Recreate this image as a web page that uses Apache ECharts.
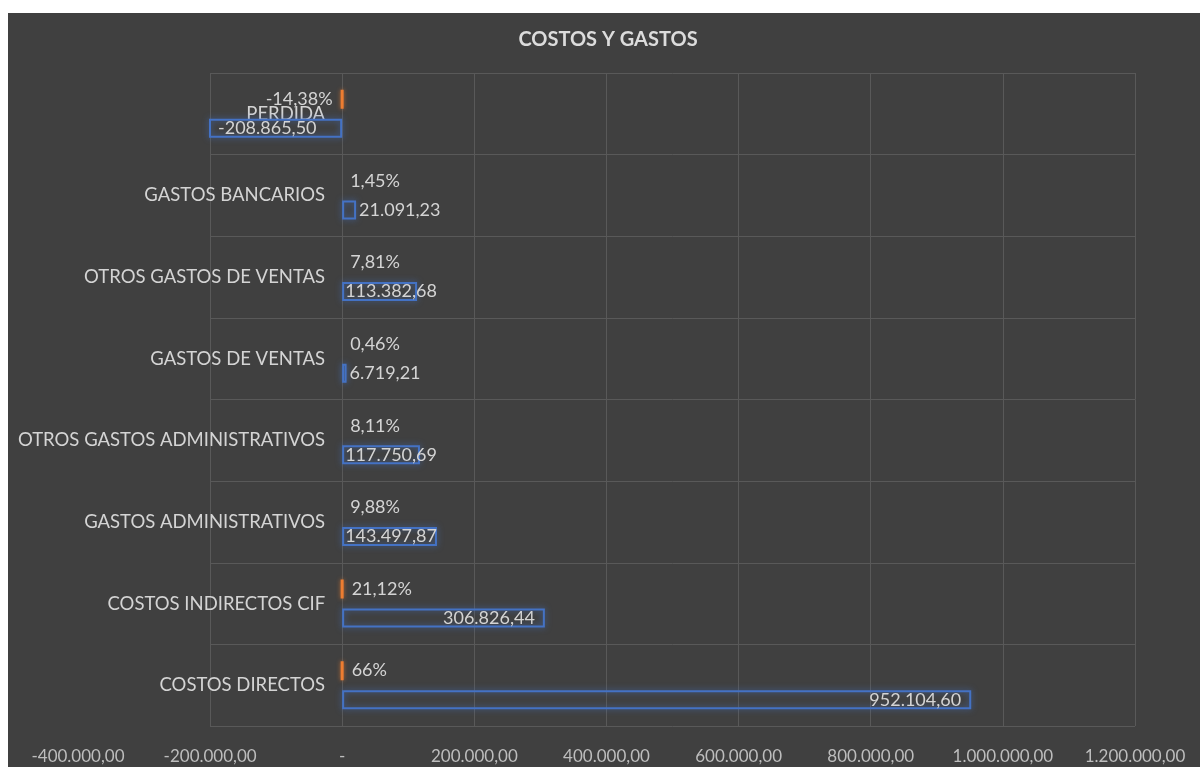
<!DOCTYPE html>
<html>
<head>
<meta charset="utf-8">
<script src="https://cdn.jsdelivr.net/npm/echarts@6/dist/echarts.min.js"></script>
<style>
  html, body { margin: 0; padding: 0; background: #ffffff; }
  #chart { position: absolute; left: 8px; top: 13px; width: 1192px; height: 754px; background: #404040; }
</style>
</head>
<body>
<div id="chart"></div>
<script>
// Cost and expense lines, bottom to top
const categories = [
  'COSTOS DIRECTOS',
  'COSTOS INDIRECTOS CIF',
  'GASTOS ADMINISTRATIVOS',
  'OTROS GASTOS ADMINISTRATIVOS',
  'GASTOS DE VENTAS',
  'OTROS GASTOS DE VENTAS',
  'GASTOS BANCARIOS',
  'PERDIDA'
];
// Amounts
const amounts = [952104.60, 306826.44, 143497.87, 117750.69, 6719.21, 113382.68, 21091.23, -208865.50];
// Share of total (fraction)
const shares = [0.66, 0.2112, 0.0988, 0.0811, 0.0046, 0.0781, 0.0145, -0.1438];
// Value axis ticks
const axisMin = -400000;
const axisMax = 1200000;
const axisStep = 200000;

const FONT = 'Lato';

// 1234567.8 -> "1.234.567,80"; zero -> "-"
function fmtAmount(v) {
  if (Math.abs(v) < 1e-9) return '-';
  const neg = v < 0;
  const parts = Math.abs(v).toFixed(2).split('.');
  const intPart = parts[0].replace(/\B(?=(\d{3})+(?!\d))/g, '.');
  return (neg ? '-' : '') + intPart + ',' + parts[1];
}
function fmtShare(v) {
  let s = (v * 100).toFixed(2).replace('.', ',');
  s = s.replace(/,00$/, '');
  return s + '%';
}

// rows where the share bar carries an outline
const outlinedShares = new Set(['PERDIDA', 'COSTOS INDIRECTOS CIF', 'COSTOS DIRECTOS']);

const orange = '#ED7D31';
const blue = '#4472C4';

const shareData = shares.map((v, i) => {
  const on = outlinedShares.has(categories[i]);
  return {
    value: v,
    itemStyle: on ? {} : { borderWidth: 0, shadowBlur: 0, color: 'rgba(0,0,0,0)' },
    label: { position: v < 0 ? 'left' : 'right' }
  };
});

function amountLabelPos(v) {
  if (v < 0) return 'insideLeft';
  if (v >= 250000) return 'insideRight';
  if (v >= 100000) return 'insideLeft';
  return 'right';
}
const amountData = amounts.map(v => ({
  value: v,
  label: {
    position: amountLabelPos(v),
    distance: v < 0 ? 9 : (v >= 250000 ? 10 : 3)
  }
}));

const chart = echarts.init(document.getElementById('chart'), null, { renderer: 'canvas' });

const gridLineColor = '#595959';
const gridLeft = 202;
const plotWidth = 1192 - gridLeft - 65;
// distance from the plot's left edge to the zero line
const zeroOffset = plotWidth * (0 - (-200000)) / (axisMax - (-200000));

chart.setOption({
  backgroundColor: '#404040',
  animation: false,
  title: {
    text: 'COSTOS Y GASTOS',
    left: 595,
    textAlign: 'center',
    top: 12,
    textStyle: { color: '#dcdcdc', fontFamily: FONT, fontWeight: 'bold', fontSize: 20 }
  },
  grid: [
    { left: gridLeft, right: 65, top: 60, bottom: 41, containLabel: false, outerBoundsMode: 'none' },
    { left: 70, right: 65, top: 60, bottom: 41, containLabel: false, outerBoundsMode: 'none' }
  ],
  xAxis: [
    {
      type: 'value', gridIndex: 0,
      min: -200000, max: axisMax, interval: axisStep,
      axisLine: { show: false }, axisTick: { show: false },
      axisLabel: { show: false },
      splitLine: { show: true, lineStyle: { color: gridLineColor, width: 1 } }
    },
    {
      type: 'value', gridIndex: 1,
      min: axisMin, max: axisMax, interval: axisStep,
      axisLine: { show: false }, axisTick: { show: false },
      splitLine: { show: false },
      axisLabel: {
        color: '#bdbdbd', fontFamily: FONT, fontSize: 17, margin: 22,
        formatter: fmtAmount
      }
    }
  ],
  yAxis: [
    {
      type: 'category', gridIndex: 0, data: categories,
      position: 'left',
      offset: -zeroOffset,
      axisLine: { show: false, onZero: false }, axisTick: { show: false },
      axisLabel: { color: '#d4d4d4', fontFamily: FONT, fontSize: 18.5, margin: 17 },
      splitLine: { show: true, lineStyle: { color: gridLineColor, width: 1 } }
    },
    {
      type: 'value', gridIndex: 1, show: false
    }
  ],
  series: [
    {
      name: 'Participación',
      type: 'bar',
      xAxisIndex: 0, yAxisIndex: 0,
      data: shareData,
      barWidth: 19,
      barGap: '53%',
      itemStyle: {
        color: orange, borderColor: orange, borderWidth: 3,
        shadowColor: 'rgba(237,125,49,0.7)', shadowBlur: 4
      },
      label: {
        show: true, distance: 8,
        color: '#d4d4d4', fontFamily: FONT, fontSize: 18,
        formatter: p => fmtShare(p.value)
      },
      z: 3
    },
    {
      name: 'Valor',
      type: 'bar',
      xAxisIndex: 0, yAxisIndex: 0,
      data: amountData,
      barWidth: 19,
      barGap: '53%',
      itemStyle: {
        color: 'rgba(0,0,0,0)', borderColor: blue, borderWidth: 2,
        shadowColor: 'rgba(68,114,196,0.8)', shadowBlur: 6
      },
      label: {
        show: true,
        color: '#d4d4d4', fontFamily: FONT, fontSize: 18,
        formatter: p => fmtAmount(p.value)
      },
      z: 3
    }
  ]
});
</script>
</body>
</html>
